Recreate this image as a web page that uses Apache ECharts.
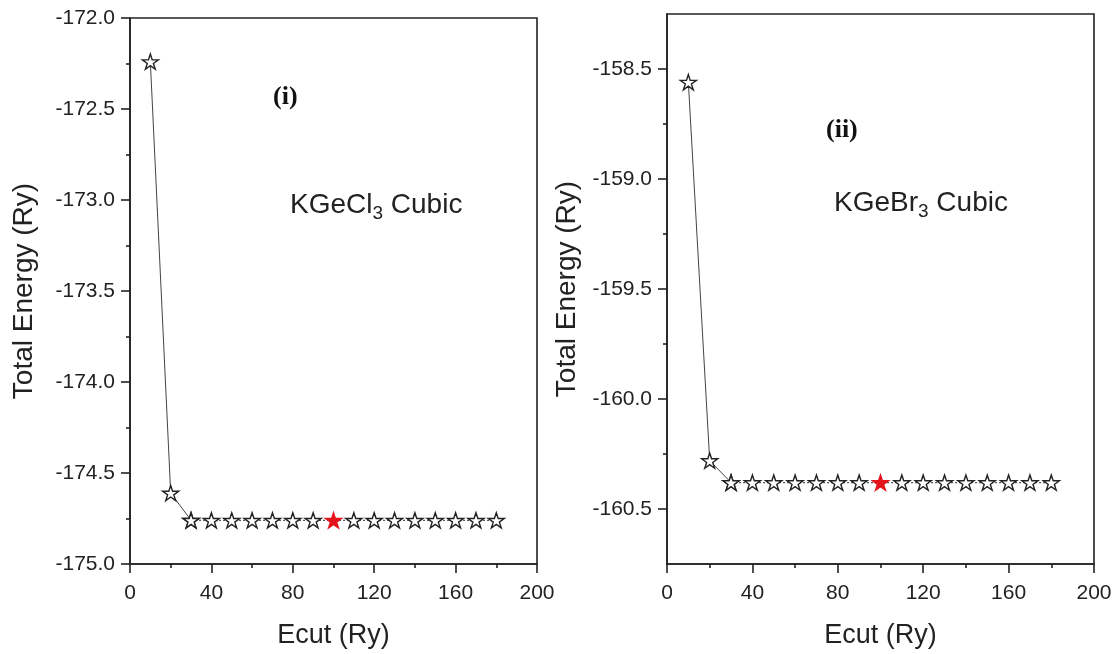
<!DOCTYPE html>
<html>
<head>
<meta charset="utf-8">
<script src="https://cdn.jsdelivr.net/npm/echarts@6/dist/echarts.min.js"></script>
<style>
html,body{margin:0;padding:0;background:#fff;}
#chart{width:1117px;height:654px;}
</style>
</head>
<body>
<div id="chart"></div>
<script>
// ---- data ----
const ecut = [10, 20, 30, 40, 50, 60, 70, 80, 90, 100, 110, 120, 130, 140, 150, 160, 170, 180];
const energyKGeCl3 = [-172.24, -174.61, -174.76, -174.76, -174.76, -174.76, -174.76, -174.76, -174.76, -174.76, -174.76, -174.76, -174.76, -174.76, -174.76, -174.76, -174.76, -174.76];
const energyKGeBr3 = [-158.56, -160.28, -160.38, -160.38, -160.38, -160.38, -160.38, -160.38, -160.38, -160.38, -160.38, -160.38, -160.38, -160.38, -160.38, -160.38, -160.38, -160.38];
const convergedEcut = 100;
const yTicksBr = [-160.5, -160.0, -159.5, -159.0, -158.5];
const yMinorBr = [-160.25, -159.75, -159.25, -158.75];
const labelsPanel = ['(i)', '(ii)'];
const solidCount = 3; // first segments drawn solid, the converged plateau dotted

// ---- styling ----
const FONT = "'Liberation Sans', Arial, sans-serif";
const AX = '#222';
const STAR = 'path://M100,0L122.45,69.1L195.1,69.1L136.33,111.8L158.8,180.9L100,138.2L41.2,180.9L63.67,111.8L4.9,69.1L77.55,69.1Z';

function pts(xs, ys) {
  return xs.map((x, i) => {
    const p = { value: [x, ys[i]] };
    if (x === convergedEcut) {
      p.itemStyle = { color: '#e3141c', borderColor: '#e3141c' };
    }
    return p;
  });
}

function xAxis(gi) {
  return {
    type: 'value', gridIndex: gi, min: 0, max: 200, interval: 40,
    name: 'Ecut (Ry)', nameLocation: 'middle', nameGap: 58,
    nameTextStyle: { fontFamily: FONT, fontSize: 27, color: '#222' },
    axisLine: { show: true, lineStyle: { color: AX, width: 1.6 } },
    axisTick: { show: true, length: 9, lineStyle: { color: AX, width: 1.6 } },
    minorTick: { show: true, splitNumber: 2, length: 4, lineStyle: { color: AX, width: 1.6 } },
    axisLabel: { fontFamily: FONT, fontSize: 21, color: '#222', margin: 19 },
    splitLine: { show: false }, minorSplitLine: { show: false }
  };
}

const commonSeries = {
  type: 'line',
  symbol: STAR, symbolSize: 16, symbolKeepAspect: true,
  itemStyle: { color: '#fff', borderColor: '#222', borderWidth: 1.4 },
  emphasis: { disabled: true },
  animation: false, z: 3
};

function seriesFor(gi, ys) {
  const all = pts(ecut, ys);
  return [
    Object.assign({}, commonSeries, { xAxisIndex: gi, yAxisIndex: gi, data: all.slice(0, solidCount),
      lineStyle: { color: '#444', width: 1 } }),
    Object.assign({}, commonSeries, { xAxisIndex: gi, yAxisIndex: gi, data: all.slice(solidCount - 1),
      lineStyle: { color: '#555', width: 1.2, type: [2, 2] } })
  ];
}

const yName = { fontFamily: FONT, fontSize: 28, color: '#222' };

const option = {
  backgroundColor: '#fff',
  animation: false,
  grid: [
    { left: 130, right: 580, top: 18, bottom: 89, show: true, borderColor: AX, borderWidth: 1.6, backgroundColor: 'transparent' },
    { left: 667, right: 23, top: 14, bottom: 89, show: true, borderColor: AX, borderWidth: 1.6, backgroundColor: 'transparent' }
  ],
  xAxis: [xAxis(0), xAxis(1)],
  yAxis: [
    {
      type: 'value', gridIndex: 0, min: -175, max: -172, interval: 0.5,
      name: 'Total Energy (Ry)', nameLocation: 'middle', nameGap: 92,
      nameTextStyle: yName,
      axisLine: { show: true, lineStyle: { color: AX, width: 1.6 } },
      axisTick: { show: true, length: 9, lineStyle: { color: AX, width: 1.6 } },
      minorTick: { show: true, splitNumber: 2, length: 4, lineStyle: { color: AX, width: 1.6 } },
      axisLabel: { fontFamily: FONT, fontSize: 21, color: '#222', margin: 15, formatter: v => v.toFixed(1) },
      splitLine: { show: false }, minorSplitLine: { show: false }
    },
    {
      type: 'value', gridIndex: 1, min: -160.75, max: -158.25,
      name: 'Total Energy (Ry)', nameLocation: 'middle', nameGap: 86,
      nameTextStyle: yName,
      axisLine: { show: true, lineStyle: { color: AX, width: 1.6 } },
      axisTick: { show: true, length: 9, customValues: yTicksBr, lineStyle: { color: AX, width: 1.6 } },
      axisLabel: { fontFamily: FONT, fontSize: 21, color: '#222', margin: 15, customValues: yTicksBr, formatter: v => Number(v).toFixed(1) },
      splitLine: { show: false }
    },
    {
      type: 'value', gridIndex: 1, min: -160.75, max: -158.25, position: 'left', offset: 0,
      axisLine: { show: false },
      axisTick: { show: true, length: 4, customValues: yMinorBr, lineStyle: { color: AX, width: 1.6 } },
      axisLabel: { show: false },
      splitLine: { show: false }
    }
  ],
  series: [].concat(seriesFor(0, energyKGeCl3), seriesFor(1, energyKGeBr3)),
  graphic: [
    { type: 'text', left: 273, top: 84, style: { text: labelsPanel[0], font: "bold 26px 'Liberation Serif', 'Times New Roman', serif", fill: '#111' } },
    { type: 'text', left: 826, top: 117, style: { text: labelsPanel[1], font: "bold 26px 'Liberation Serif', 'Times New Roman', serif", fill: '#111' } },
    { type: 'text', left: 290, top: 191, style: {
        text: '{a|KGeCl}{s|3}{a| Cubic}',
        rich: { a: { fontFamily: FONT, fontSize: 28, fill: '#222' }, s: { fontFamily: FONT, fontSize: 19, fill: '#222', padding: [18, 0, 0, 0] } }
    } },
    { type: 'text', left: 834, top: 189, style: {
        text: '{a|KGeBr}{s|3}{a| Cubic}',
        rich: { a: { fontFamily: FONT, fontSize: 28, fill: '#222' }, s: { fontFamily: FONT, fontSize: 19, fill: '#222', padding: [18, 0, 0, 0] } }
    } }
  ]
};

const chart = echarts.init(document.getElementById('chart'), null, { renderer: 'canvas' });
chart.setOption(option);
</script>
</body>
</html>
